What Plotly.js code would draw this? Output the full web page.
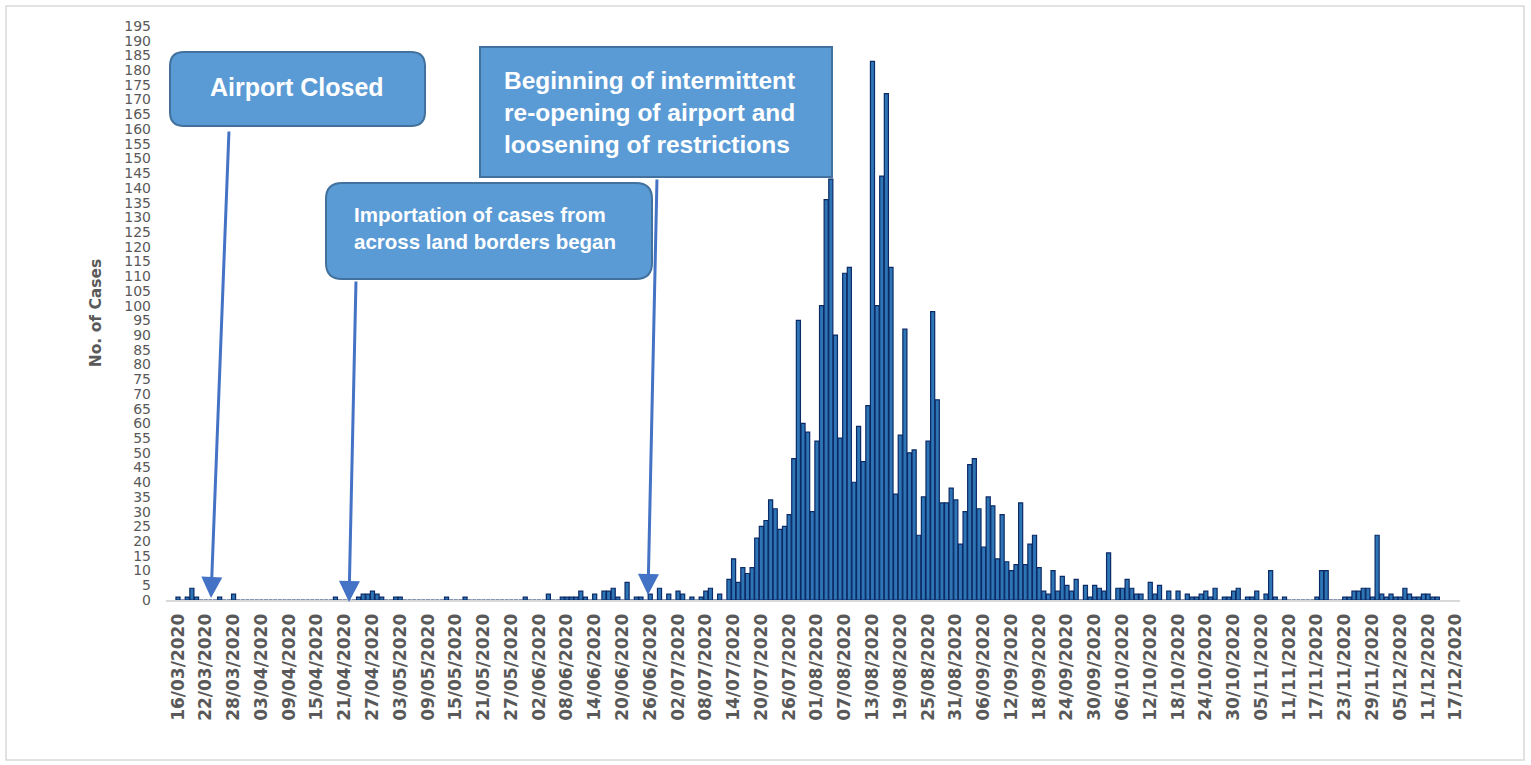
<!DOCTYPE html>
<html>
<head>
<meta charset="utf-8">
<script src="https://cdn.plot.ly/plotly-3.0.1.min.js"></script>
<style>
  html, body { margin: 0; padding: 0; background: #ffffff; }
  #chart { width: 1531px; height: 765px; }
</style>
</head>
<body>
<div id="chart"></div>
<script>
// ---- Data (daily new cases, one value per day starting 16/03/2020) ----
const startDate = '2020-03-16';
const cases = [
  1, 0, 1, 4, 1, 0, 0, 0, 0, 1,          // 16/03 - 25/03
  0, 0, 2, 0, 0, 0, 0, 0, 0, 0,          // 26/03 - 04/04
  0, 0, 0, 0, 0, 0, 0, 0, 0, 0,          // 05/04 - 14/04
  0, 0, 0, 0, 1, 0, 0, 0, 0, 1,          // 15/04 - 24/04
  2, 2, 3, 2, 1, 0, 0, 1, 1, 0,          // 25/04 - 04/05
  0, 0, 0, 0, 0, 0, 0, 0, 1, 0,          // 05/05 - 14/05
  0, 0, 1, 0, 0, 0, 0, 0, 0, 0,          // 15/05 - 24/05
  0, 0, 0, 0, 0, 1, 0, 0, 0, 0,          // 25/05 - 03/06
  2, 0, 0, 1, 1, 1, 1, 3, 1, 0,          // 04/06 - 13/06
  2, 0, 3, 3, 4, 1, 0, 6, 0, 1,          // 14/06 - 23/06
  1, 0, 2, 0, 4, 0, 2, 0, 3, 2,          // 24/06 - 03/07
  0, 1, 0, 1, 3, 4, 0, 2, 0, 7,          // 04/07 - 13/07
  14, 6, 11, 9, 11, 21, 25, 27, 34, 31,  // 14/07 - 23/07
  24, 25, 29, 48, 95, 60, 57, 30, 54, 100, // 24/07 - 02/08
  136, 143, 90, 55, 111, 113, 40, 59, 47, 66, // 03/08 - 12/08
  183, 100, 144, 172, 113, 36, 56, 92, 50, 51, // 13/08 - 22/08
  22, 35, 54, 98, 68, 33, 33, 38, 34, 19, // 23/08 - 01/09
  30, 46, 48, 31, 18, 35, 32, 14, 29, 13, // 02/09 - 11/09
  10, 12, 33, 12, 19, 22, 11, 3, 2, 10,  // 12/09 - 21/09
  3, 8, 5, 3, 7, 0, 5, 1, 5, 4,          // 22/09 - 01/10
  3, 16, 0, 4, 4, 7, 4, 2, 2, 0,         // 02/10 - 11/10
  6, 2, 5, 0, 3, 0, 3, 0, 2, 1,          // 12/10 - 21/10
  1, 2, 3, 1, 4, 0, 1, 1, 3, 4,          // 22/10 - 31/10
  0, 1, 1, 3, 0, 2, 10, 1, 0, 1,         // 01/11 - 10/11
  0, 0, 0, 0, 0, 0, 1, 10, 10, 0,        // 11/11 - 20/11
  0, 0, 1, 1, 3, 3, 4, 4, 1, 22,         // 21/11 - 30/11
  2, 1, 2, 1, 1, 4, 2, 1, 1, 2,          // 01/12 - 10/12
  2, 1, 1                                // 11/12 - 13/12
];

const yTitle = 'No. of Cases';
const noteAirport = 'Airport Closed';
const noteLand = 'Importation of cases from<br>across land borders began';
const noteReopen = 'Beginning of intermittent<br>re-opening of airport and<br>loosening of restrictions';

// ---- Build date categories from the start date ----
function addDays(iso, n) {
  const d = new Date(iso + 'T00:00:00Z');
  d.setUTCDate(d.getUTCDate() + n);
  return d.toISOString().slice(0, 10);
}
const dates = cases.map((_, i) => addDays(startDate, i));

// ---- Pixel helpers for layout decorations ----
const W = 1531, H = 765;
const PL = 166, PR = 1460, PT = 26, PB = 600;
const px = v => (v - PL) / (PR - PL);
const py = v => (PB - v) / (PB - PT);

function roundRect(x0, y0, x1, y1, r) {
  const p = (a, b) => px(a).toFixed(5) + ',' + py(b).toFixed(5);
  return 'M' + p(x0 + r, y0) +
    ' L' + p(x1 - r, y0) + ' Q' + p(x1, y0) + ' ' + p(x1, y0 + r) +
    ' L' + p(x1, y1 - r) + ' Q' + p(x1, y1) + ' ' + p(x1 - r, y1) +
    ' L' + p(x0 + r, y1) + ' Q' + p(x0, y1) + ' ' + p(x0, y1 - r) +
    ' L' + p(x0, y0 + r) + ' Q' + p(x0, y0) + ' ' + p(x0 + r, y0) + ' Z';
}

const boxFill = '#5B9BD5';
const boxLine = '#41719C';
const arrowColor = '#4472C4';
const grey = '#595959';

const trace = {
  type: 'bar',
  x: dates,
  y: cases,
  marker: { color: '#2E75B6', line: { color: '#0B2A66', width: 1.2 } },
  hoverinfo: 'x+y'
};

const shapes = [
  // outer chart border
  { type: 'rect', xref: 'paper', yref: 'paper',
    x0: px(6), x1: px(1524), y0: py(6), y1: py(760),
    line: { color: '#D9D9D9', width: 1.5 }, fillcolor: 'rgba(0,0,0,0)', layer: 'below' },
  // Airport Closed box
  { type: 'path', xref: 'paper', yref: 'paper', path: roundRect(170, 52, 425, 126, 14),
    fillcolor: boxFill, line: { color: boxLine, width: 2 }, layer: 'above' },
  // Importation box
  { type: 'path', xref: 'paper', yref: 'paper', path: roundRect(326, 183, 652, 279, 16),
    fillcolor: boxFill, line: { color: boxLine, width: 2 }, layer: 'above' },
  // Re-opening box
  { type: 'rect', xref: 'paper', yref: 'paper',
    x0: px(480), x1: px(832), y0: py(47), y1: py(177),
    fillcolor: boxFill, line: { color: boxLine, width: 2 }, layer: 'above' }
];

const textFont = (size) => ({ family: 'Liberation Sans, Arial, sans-serif', size: size, color: '#FFFFFF', weight: 'bold' });

function arrow(tx, ty, hx, hy) {
  return { xref: 'paper', yref: 'paper', x: px(hx), y: py(hy),
    axref: 'pixel', ayref: 'pixel', ax: tx - hx, ay: ty - hy,
    text: '', showarrow: true, arrowhead: 2, arrowsize: 1.4, arrowwidth: 3,
    arrowcolor: arrowColor, standoff: 0, startstandoff: 0 };
}

const annotations = [
  { xref: 'paper', yref: 'paper', x: px(297), y: py(87), xanchor: 'center', yanchor: 'middle',
    text: noteAirport, showarrow: false, font: textFont(25) },
  { xref: 'paper', yref: 'paper', x: px(352), y: py(228), xanchor: 'left', yanchor: 'middle',
    align: 'left', text: noteLand, showarrow: false, font: textFont(20.5) },
  { xref: 'paper', yref: 'paper', x: px(502), y: py(112), xanchor: 'left', yanchor: 'middle',
    align: 'left', text: noteReopen, showarrow: false, font: textFont(24.5) },
  arrow(229, 130, 211, 598),
  arrow(356, 280, 349, 602),
  arrow(657, 178, 648, 595)
];

const layout = {
  width: W, height: H,
  margin: { l: PL, r: W - PR, t: PT, b: H - PB },
  paper_bgcolor: '#FFFFFF',
  plot_bgcolor: '#FFFFFF',
  showlegend: false,
  bargap: 0.12,
  xaxis: {
    type: 'date',
    range: ['2020-03-13 09:48', '2020-12-17 21:36'],
    tick0: startDate,
    dtick: 6 * 86400000,
    tickformat: '%d/%m/%Y',
    tickangle: -90,
    tickfont: { family: 'DejaVu Sans', size: 17, color: grey, weight: 'bold' },
    showgrid: false,
    zeroline: false,
    showline: true,
    linecolor: '#D9D9D9',
    linewidth: 2,
    ticks: '',
    ticklabelstandoff: 5
  },
  yaxis: {
    range: [0, 195],
    dtick: 5,
    tick0: 0,
    showgrid: false,
    zeroline: false,
    showline: false,
    ticks: '',
    tickfont: { family: 'DejaVu Sans', size: 14, color: grey },
    ticklabelstandoff: 14,
    title: { text: yTitle, font: { family: 'DejaVu Sans', size: 15.5, color: grey, weight: 'bold' }, standoff: 18 }
  },
  shapes: shapes,
  annotations: annotations
};

Plotly.newPlot('chart', [trace], layout, { displayModeBar: false, staticPlot: true });
</script>
</body>
</html>
